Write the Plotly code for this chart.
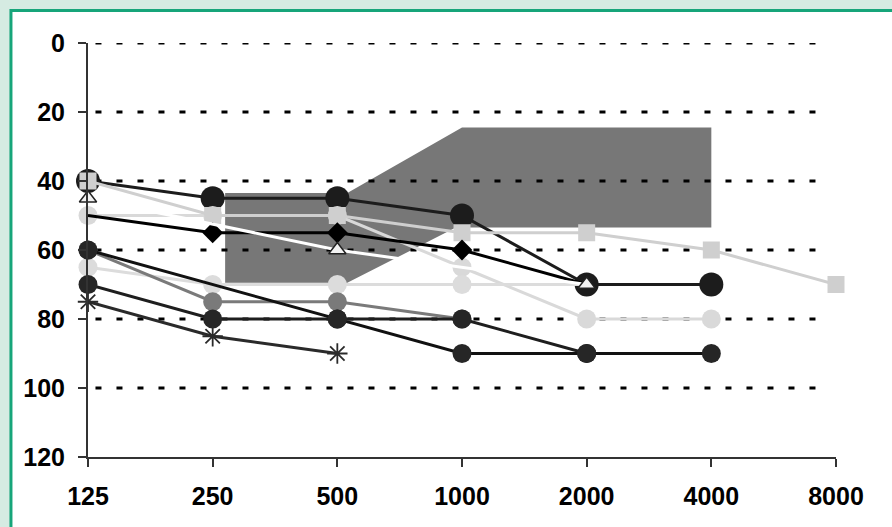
import plotly.graph_objects as go

# Audiogram: hearing thresholds (dB) per frequency (Hz)
freqs = ["125", "250", "500", "1000", "2000", "4000", "8000"]
y_ticks = [0, 20, 40, 60, 80, 100, 120]
grid_levels = [0, 20, 40, 60, 80, 100]

big_black = [40, 45, 45, 50, 70, 70, None]
light_hi = [50, 50, 50, 65, 80, 80, None]
light_70 = [65, 70, 70, 70, 70, None, None]
light_sq = [40, 50, 50, 55, 55, 60, 70]
diamond = [50, 55, 55, 60, 70, None, None]
gray_mid = [60, 75, 75, 80, None, None, None]
black_60 = [60, None, 80, 90, 90, 90, None]
dark_70 = [70, 80, 80, 80, 90, None, None]
star = [75, 85, 90, None, None, None, None]
open_tri = [45, None, 60, None, 70, None, None]

# shaded target zone (frequency index, dB)
zone_x = [1.1, 2.08, 3.0, 5.0, 5.0, 2.95, 2.08, 1.1]
zone_y = [43.5, 43.5, 24.5, 24.5, 53.5, 53.5, 69.5, 69.5]

xi = list(range(len(freqs)))

# curves whose end points carry no marker of their own
diamond_sizes = [0, 16, 16, 16, 0, 0, 0]
light_70_sizes = [19, 19, 19, 19, 0, 0, 0]

series = [
    (big_black, "#1c1c1c", "circle", 24, "#1c1c1c", 3),
    (light_hi, "#d9d9d9", "circle", 19, "#d9d9d9", 3),
    (light_70, "#dcdcdc", "circle", light_70_sizes, "#dcdcdc", 3),
    (light_sq, "#cfcfcf", "square", 17, "#cfcfcf", 3),
    (diamond, "#000000", "diamond", diamond_sizes, "#000000", 3),
    (gray_mid, "#7a7a7a", "circle", 19, "#7a7a7a", 3),
    (black_60, "#111111", "circle", 19, "#262626", 3),
    (dark_70, "#1e1e1e", "circle", 19, "#262626", 3),
]

fig = go.Figure()
for vals, lc, sym, sz, mc, lw in series:
    fig.add_trace(go.Scatter(
        x=xi, y=vals, mode="lines+markers", connectgaps=True,
        line=dict(color=lc, width=lw),
        marker=dict(symbol=sym, size=sz, color=mc, opacity=1, line=dict(width=0)),
        cliponaxis=False, showlegend=False))

fig.add_trace(go.Scatter(
    x=xi, y=star, mode="lines+markers", connectgaps=True,
    line=dict(color="#2a2a2a", width=3),
    marker=dict(symbol="asterisk-open", size=17, color="#2a2a2a",
                line=dict(width=1.8, color="#2a2a2a")),
    cliponaxis=False, showlegend=False))

fig.add_trace(go.Scatter(
    x=xi, y=open_tri, mode="lines+markers", connectgaps=True,
    line=dict(color="#ffffff", width=3),
    marker=dict(symbol="triangle-up", size=15, color="#f2f2f2",
                line=dict(width=1.5, color="#222222")),
    cliponaxis=False, showlegend=False))

shapes = [
    # page frame
    dict(type="rect", xref="paper", yref="paper",
         x0=-0.1030, x1=1.2, y0=-0.3, y1=1.0785,
         fillcolor="white", line=dict(color="#17a57a", width=3), layer="below"),
]
path = "M " + " L ".join(f"{a},{b}" for a, b in zip(zone_x, zone_y)) + " Z"
shapes.append(dict(type="path", path=path, xref="x", yref="y",
                   fillcolor="#777777", line=dict(width=0), layer="below"))
for g in grid_levels:
    shapes.append(dict(type="line", xref="x", yref="y", x0=0.06, x1=5.95,
                       y0=g, y1=g, line=dict(color="#000000", width=3, dash="6px,15px"),
                       layer="below"))

tick_font = dict(family="Liberation Sans Narrow, Liberation Sans", size=25,
                 color="#000000", weight="bold")

fig.update_layout(
    width=892, height=527,
    margin=dict(l=88, r=56, t=43, b=70),
    paper_bgcolor="#d5ebe2",
    plot_bgcolor="white",
    shapes=shapes,
    font=dict(family="Liberation Sans", size=21, color="#000000"),
    xaxis=dict(range=[0, 6], tickvals=xi, ticktext=freqs,
               showgrid=False, zeroline=False, showline=True,
               linecolor="#333333", linewidth=2,
               ticks="outside", ticklen=8, tickwidth=1.5, tickcolor="#333333",
               ticklabelstandoff=8, tickfont=tick_font),
    yaxis=dict(range=[120, 0], tickvals=y_ticks,
               showgrid=False, zeroline=False, showline=True,
               linecolor="#333333", linewidth=2,
               ticks="outside", ticklen=8, tickwidth=1.5, tickcolor="#333333",
               ticklabelstandoff=8, tickfont=tick_font),
)

fig.write_html("out.html")
